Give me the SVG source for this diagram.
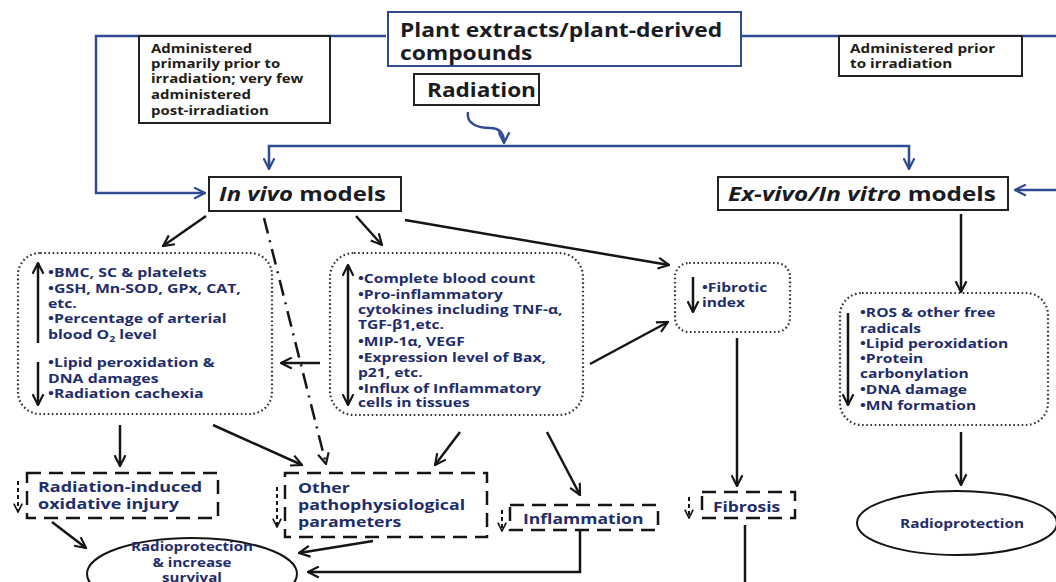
<svg xmlns="http://www.w3.org/2000/svg" width="1056" height="582" viewBox="0 0 1056 582">
<defs>
<style>
text{font-family:"Open Sans","Liberation Sans",sans-serif;font-weight:700}
.hd{fill:#1b1b22;font-size:19px}
.nt{fill:#231c18;font-size:11.5px}
.bl{fill:#1f2d6b;font-size:12px}
.md{fill:#1f2d6b;font-size:15px}
.rp{fill:#1f2d6b;font-size:12px}
.box{fill:#fff;stroke:#222;stroke-width:2}
.bbox{fill:#fff;stroke:#2e4b94;stroke-width:2}
.blue{fill:none;stroke:#2e4b94;stroke-width:2.5}
.blk{fill:none;stroke:#151515;stroke-width:2.5}
.dot{fill:none;stroke:#333;stroke-width:2.2;stroke-dasharray:1.6 2.6}
.dash{fill:none;stroke:#151515;stroke-width:2.5;stroke-dasharray:14 8}
.dd{fill:none;stroke:#151515;stroke-width:2;stroke-dasharray:4 3}
.dashdot{fill:none;stroke:#151515;stroke-width:2.5;stroke-dasharray:16 7 2 7}
.ell{fill:#fff;stroke:#151515;stroke-width:2}
</style>
<marker id="ab" viewBox="0 0 12 12" refX="11" refY="6" markerWidth="13" markerHeight="13" markerUnits="userSpaceOnUse" orient="auto-start-reverse"><path d="M1,1 L11,6 L1,11" fill="none" stroke="#151515" stroke-width="2"/></marker>
<marker id="as" viewBox="0 0 12 12" refX="11" refY="6" markerWidth="10" markerHeight="10" markerUnits="userSpaceOnUse" orient="auto"><path d="M1,1 L11,6 L1,11" fill="none" stroke="#151515" stroke-width="2"/></marker>
<marker id="au" viewBox="0 0 12 12" refX="11" refY="6" markerWidth="13" markerHeight="13" markerUnits="userSpaceOnUse" orient="auto"><path d="M1,1 L11,6 L1,11" fill="none" stroke="#2e4b94" stroke-width="2"/></marker>
</defs>
<rect width="1056" height="582" fill="#fff"/>

<g id="connectors">
<path class="blue" d="M386,36 H96 V193 H205" marker-end="url(#au)"/>
<path class="blue" d="M742,36 H1056"/>
<path class="blue" d="M1056,190 H1015" marker-end="url(#au)"/>
<path class="blue" d="M468,112 C466,124 478,128 490,128 C500,128 504,134 504,143" marker-end="url(#au)"/>
<path class="blue" d="M269,168 V146 H909 V168"/>
<path class="blue" d="M269,160 V169" marker-end="url(#au)"/>
<path class="blue" d="M909,160 V169" marker-end="url(#au)"/>
<path class="blk" d="M206,216 L163,246" marker-end="url(#ab)"/>
<path class="blk" d="M356,216 L382,245" marker-end="url(#ab)"/>
<path class="blk" d="M405,220 L669,265" marker-end="url(#ab)"/>
<path class="dashdot" d="M264,218 L326,464" marker-end="url(#ab)"/>
<path class="blk" d="M320,363 H281" marker-end="url(#ab)"/>
<path class="blk" d="M590,364 L668,322" marker-end="url(#ab)"/>
<path class="blk" d="M737,338 V486" marker-end="url(#ab)"/>
<path class="blk" d="M961,214 V292" marker-end="url(#ab)"/>
<path class="blk" d="M961,432 V485" marker-end="url(#ab)"/>
<path class="blk" d="M120,425 V466" marker-end="url(#ab)"/>
<path class="blk" d="M213,425 L302,465" marker-end="url(#ab)"/>
<path class="blk" d="M460,432 L435,465" marker-end="url(#ab)"/>
<path class="blk" d="M547,432 L580,495" marker-end="url(#ab)"/>
<path class="blk" d="M52,522 L86,548" marker-end="url(#ab)"/>
<path class="blk" d="M373,541 L299,553" marker-end="url(#ab)"/>
<path class="blk" d="M580,531 V572 H308" marker-end="url(#ab)"/>
<path class="blk" d="M745,525 V582"/>
</g>

<g id="plant">
<rect class="bbox" x="388" y="12" width="353" height="54"/>
<text class="hd" transform="matrix(1.2 0 0 1 400 37)">Plant extracts/plant-derived</text>
<text class="hd" transform="matrix(1.2 0 0 1 400 60)">compounds</text>
</g>

<g id="note-left">
<rect class="box" x="139" y="36" width="191" height="87"/>
<text class="nt" transform="matrix(1.3 0 0 1 151 53)">Administered</text>
<text class="nt" transform="matrix(1.3 0 0 1 151 68)">primarily prior to</text>
<text class="nt" transform="matrix(1.3 0 0 1 151 83)">irradiation; very few</text>
<text class="nt" transform="matrix(1.3 0 0 1 151 99)">administered</text>
<text class="nt" transform="matrix(1.3 0 0 1 151 115)">post-irradiation</text>
</g>

<g id="note-right">
<rect class="box" x="839" y="36" width="183" height="40"/>
<text class="nt" transform="matrix(1.33 0 0 1 850 53)">Administered prior</text>
<text class="nt" transform="matrix(1.33 0 0 1 850 68)">to irradiation</text>
</g>

<g id="radiation">
<rect class="box" x="414" y="74" width="125" height="31"/>
<text class="hd" font-size="18" transform="matrix(1.19 0 0 1 427 97)">Radiation</text>
</g>

<g id="invivo">
<rect class="box" x="209" y="177" width="192" height="34"/>
<text class="hd" transform="matrix(1.26 0 0 1 219 201)"><tspan font-style="italic">In vivo</tspan> models</text>
</g>

<g id="exvivo">
<rect class="box" x="718" y="177" width="290" height="33"/>
<text class="hd" transform="matrix(1.28 0 0 1 728 201)"><tspan font-style="italic">Ex-vivo/In vitro</tspan> models</text>
</g>

<g id="box-left">
<rect class="dot" x="18" y="253" width="254" height="161" rx="22"/>
<path class="blk" d="M38,343 V263" marker-end="url(#ab)" stroke-width="2"/>
<path class="blk" d="M38,362 V405" marker-end="url(#ab)" stroke-width="2"/>
<text class="bl" transform="matrix(1.32 0 0 1 48 277)">•BMC, SC &amp; platelets</text>
<text class="bl" transform="matrix(1.32 0 0 1 48 293)">•GSH, Mn-SOD, GPx, CAT,</text>
<text class="bl" transform="matrix(1.32 0 0 1 48 308)">etc.</text>
<text class="bl" transform="matrix(1.32 0 0 1 48 323)">•Percentage of arterial</text>
<text class="bl" transform="matrix(1.32 0 0 1 48 339)">blood O<tspan font-size="8" dy="3">2</tspan><tspan dy="-3"> level</tspan></text>
<text class="bl" transform="matrix(1.32 0 0 1 48 367)">•Lipid peroxidation &amp;</text>
<text class="bl" transform="matrix(1.32 0 0 1 48 383)">DNA damages</text>
<text class="bl" transform="matrix(1.32 0 0 1 48 398)">•Radiation cachexia</text>
</g>

<g id="box-mid">
<rect class="dot" x="330" y="253" width="253" height="162" rx="24"/>
<path class="blk" d="M348,265 V405" marker-start="url(#ab)" marker-end="url(#ab)" stroke-width="2"/>
<text class="bl" transform="matrix(1.3 0 0 1 358 283)">•Complete blood count</text>
<text class="bl" transform="matrix(1.3 0 0 1 358 299)">•Pro-inflammatory</text>
<text class="bl" transform="matrix(1.3 0 0 1 358 314)">cytokines including TNF-α,</text>
<text class="bl" transform="matrix(1.3 0 0 1 358 329)">TGF-β1,etc.</text>
<text class="bl" transform="matrix(1.3 0 0 1 358 346)">•MIP-1α, VEGF</text>
<text class="bl" transform="matrix(1.3 0 0 1 358 362)">•Expression level of Bax,</text>
<text class="bl" transform="matrix(1.3 0 0 1 358 377)">p21, etc.</text>
<text class="bl" transform="matrix(1.3 0 0 1 358 393)">•Influx of Inflammatory</text>
<text class="bl" transform="matrix(1.3 0 0 1 358 407)">cells in tissues</text>
</g>

<g id="fibrotic">
<rect class="dot" x="675" y="263" width="115" height="69" rx="14"/>
<path class="blk" d="M693,277 V312" marker-end="url(#ab)" stroke-width="2"/>
<text class="bl" transform="matrix(1.3 0 0 1 702 292)">•Fibrotic</text>
<text class="bl" transform="matrix(1.3 0 0 1 702 307)">index</text>
</g>

<g id="box-right">
<rect class="dot" x="840" y="293" width="208" height="132" rx="22"/>
<path class="blk" d="M848,313 V405" marker-end="url(#ab)" stroke-width="2"/>
<text class="bl" transform="matrix(1.3 0 0 1 860 317)">•ROS &amp; other free</text>
<text class="bl" transform="matrix(1.3 0 0 1 860 333)">radicals</text>
<text class="bl" transform="matrix(1.3 0 0 1 860 348)">•Lipid peroxidation</text>
<text class="bl" transform="matrix(1.3 0 0 1 860 363)">•Protein</text>
<text class="bl" transform="matrix(1.3 0 0 1 860 378)">carbonylation</text>
<text class="bl" transform="matrix(1.3 0 0 1 860 394)">•DNA damage</text>
<text class="bl" transform="matrix(1.3 0 0 1 860 410)">•MN formation</text>
</g>

<g id="oxidative">
<rect class="dash" x="27" y="473" width="191" height="45"/>
<path class="dd" d="M18,481 V512" marker-end="url(#as)"/>
<text class="md" transform="matrix(1.2 0 0 1 38 492)">Radiation-induced</text>
<text class="md" transform="matrix(1.2 0 0 1 38 509)">oxidative injury</text>
</g>

<g id="other">
<rect class="dash" x="285" y="473" width="202" height="64"/>
<path class="dd" d="M277,487 V527" marker-end="url(#as)"/>
<text class="md" transform="matrix(1.18 0 0 1 298 493)">Other</text>
<text class="md" transform="matrix(1.18 0 0 1 298 510)">pathophysiological</text>
<text class="md" transform="matrix(1.18 0 0 1 298 527)">parameters</text>
</g>

<g id="inflammation">
<rect class="dash" x="510" y="505" width="148" height="25"/>
<path class="dd" d="M502,510 V531" marker-end="url(#as)"/>
<text class="md" transform="matrix(1.17 0 0 1 523 524)">Inflammation</text>
</g>

<g id="fibrosis">
<rect class="dash" x="702" y="492" width="93" height="26"/>
<path class="dd" d="M689,497 V518" marker-end="url(#as)"/>
<text class="md" transform="matrix(1.16 0 0 1 713 512)">Fibrosis</text>
</g>

<g id="radioprot-left">
<ellipse class="ell" cx="192" cy="574" rx="105" ry="36"/>
<text class="rp" text-anchor="middle" transform="matrix(1.26 0 0 1 192 551)">Radioprotection</text>
<text class="rp" text-anchor="middle" transform="matrix(1.26 0 0 1 192 567)">&amp; increase</text>
<text class="rp" text-anchor="middle" transform="matrix(1.26 0 0 1 192 582)">survival</text>
</g>

<g id="radioprot-right">
<ellipse class="ell" cx="957" cy="523" rx="100" ry="32"/>
<text class="rp" text-anchor="middle" transform="matrix(1.28 0 0 1 962 528)">Radioprotection</text>
</g>
</svg>
